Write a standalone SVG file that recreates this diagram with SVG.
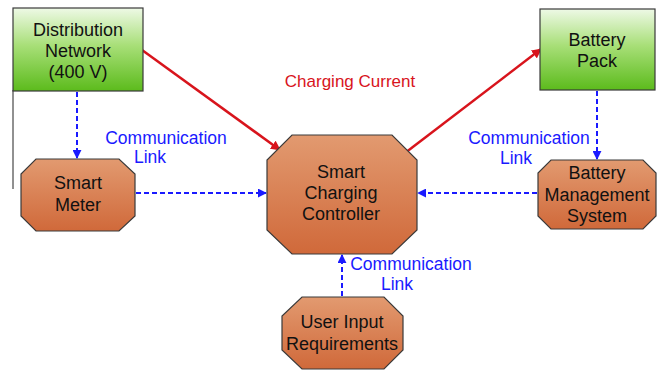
<svg xmlns="http://www.w3.org/2000/svg" width="661" height="371" viewBox="0 0 661 371">
  <style>
    .box { stroke: #3a3a3a; stroke-width: 1.2; fill: url(#green); }
    .oct { stroke: #3a3a3a; stroke-width: 1.2; fill: url(#orange); }
    .nt { font-family: "Liberation Sans", Arial, sans-serif; font-size: 18px; fill: #111; text-anchor: middle; }
    .lbl { font-family: "Liberation Sans", Arial, sans-serif; font-size: 17.5px; fill: #1a1aff; text-anchor: middle; }
    .red { font-family: "Liberation Sans", Arial, sans-serif; font-size: 17px; fill: #d8141c; text-anchor: middle; }
    .power { stroke: #d8141c; stroke-width: 2.5; fill: none; marker-end: url(#redArrow); }
    .comm { stroke: #1a1aff; stroke-width: 2; stroke-dasharray: 5 3; fill: none; marker-end: url(#blueArrow); }
  </style>
  <defs>
    <linearGradient id="green" x1="0" y1="0" x2="0" y2="1">
      <stop offset="0" stop-color="#eef9e6"/>
      <stop offset="0.45" stop-color="#a8df78"/>
      <stop offset="1" stop-color="#5cbb1c"/>
    </linearGradient>
    <linearGradient id="orange" x1="0" y1="0" x2="0" y2="1">
      <stop offset="0" stop-color="#e29a70"/>
      <stop offset="1" stop-color="#d0693a"/>
    </linearGradient>
    <marker id="redArrow" viewBox="0 0 10 10" refX="9" refY="5" markerWidth="4" markerHeight="4" orient="auto">
      <path d="M0,0 L10,5 L0,10 Z" fill="#d8141c"/>
    </marker>
    <marker id="blueArrow" viewBox="0 0 10 10" refX="9" refY="5" markerWidth="4.5" markerHeight="4.5" orient="auto">
      <path d="M0,0 L10,5 L0,10 Z" fill="#1a1aff"/>
    </marker>
  </defs>

  <rect width="661" height="371" fill="#ffffff"/>
  <!-- stray frame edge on the left -->
  <line x1="13" y1="90" x2="13" y2="189" stroke="#222" stroke-width="1"/>

  <g id="connectors">
    <line class="power" x1="142" y1="50" x2="280" y2="150"/>
    <line class="power" x1="405" y1="153" x2="541" y2="49"/>
    <line class="comm" x1="77" y1="92" x2="77" y2="158"/>
    <line class="comm" x1="136" y1="193" x2="266" y2="193"/>
    <line class="comm" x1="597" y1="91" x2="597" y2="159"/>
    <line class="comm" x1="537" y1="193" x2="418" y2="193"/>
    <line class="comm" x1="342" y1="296" x2="342" y2="255"/>
  </g>

  <g id="labels">
    <text class="red" x="350" y="87">Charging Current</text>
    <text class="lbl" x="166" y="144">Communication</text>
    <text class="lbl" x="150" y="163">Link</text>
    <text class="lbl" x="529" y="144">Communication</text>
    <text class="lbl" x="516" y="164">Link</text>
    <text class="lbl" x="411" y="270">Communication</text>
    <text class="lbl" x="397" y="290">Link</text>
  </g>

  <g id="distribution-network">
    <rect class="box" x="13" y="8" width="130" height="83"/>
    <text class="nt" x="78" y="36">Distribution</text>
    <text class="nt" x="78" y="57">Network</text>
    <text class="nt" x="78" y="78">(400 V)</text>
  </g>

  <g id="battery-pack">
    <rect class="box" x="540" y="9" width="115" height="81"/>
    <text class="nt" x="597" y="46">Battery</text>
    <text class="nt" x="597" y="67">Pack</text>
  </g>

  <g id="smart-meter">
    <polygon class="oct" points="36,159 119,159 135,174 135,216 119,231 36,231 21,216 21,174"/>
    <text class="nt" x="78" y="189">Smart</text>
    <text class="nt" x="78" y="211">Meter</text>
  </g>

  <g id="smart-charging-controller">
    <polygon class="oct" points="292,135 392,135 417,160 417,230 392,254 292,254 267,230 267,160"/>
    <text class="nt" x="341" y="178">Smart</text>
    <text class="nt" x="341" y="199">Charging</text>
    <text class="nt" x="341" y="220">Controller</text>
  </g>

  <g id="battery-management-system">
    <polygon class="oct" points="551,160 643,160 656,173 656,216 643,229 551,229 538,216 538,173"/>
    <text class="nt" x="597" y="179">Battery</text>
    <text class="nt" x="597" y="201">Management</text>
    <text class="nt" x="597" y="222">System</text>
  </g>

  <g id="user-input-requirements">
    <polygon class="oct" points="302,297 384,297 403,316 403,350 384,369 302,369 282,350 282,316"/>
    <text class="nt" x="342" y="328">User Input</text>
    <text class="nt" x="342" y="350">Requirements</text>
  </g>
</svg>
